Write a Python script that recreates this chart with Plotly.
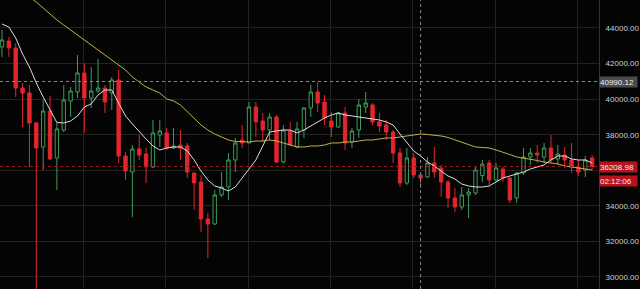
import plotly.graph_objects as go

# ---- data ----
opens = [42932, 43270, 42876, 40627, 40346, 38659, 37309, 39333, 36691, 38265,
         39895, 40402, 41470, 40065, 40458, 40627, 40346, 41077, 36804, 35904,
         37197, 36916, 36185, 37984, 38097, 37253, 37422, 37366, 35848, 35342,
         33262, 32980, 34611, 35061, 36579, 37703, 37534, 39558, 38771, 38265,
         38996, 36466, 38209, 37309, 38265, 39502, 40402, 39840, 38771, 38434,
         39221, 37591, 38265, 39558, 39670, 38715, 38546, 38153, 36972, 35286,
         36691, 35735, 35623, 36410, 36128, 35342, 34443, 33937, 34611, 34724,
         35700, 36410, 35454, 36072, 35567, 34443, 35848, 36747, 36972, 36747,
         37253, 36635, 36860, 36579, 36185, 36017, 36692]
highs = [43888, 43494, 43157, 40908, 40796, 38715, 39952, 40177, 38659, 40796,
         40683, 42482, 42032, 41807, 42257, 40796, 41245, 41639, 37028, 37422,
         37984, 37253, 38828, 38828, 38378, 38378, 38265, 37534, 35848, 35735,
         33600, 34892, 35904, 36972, 37816, 38546, 39840, 39840, 39221, 39221,
         39108, 38546, 38715, 38715, 39558, 40796, 40964, 40233, 39277, 39277,
         39558, 38378, 40008, 40402, 39783, 39221, 38828, 38265, 37253, 37253,
         36972, 35848, 36747, 37309, 36297, 35454, 35005, 35061, 35005, 36185,
         36579, 36579, 36410, 36185, 35623, 35904, 37253, 37253, 37422, 37534,
         37984, 37422, 37310, 37535, 36579, 36804, 36860]
lows = [42370, 42370, 40120, 38434, 36185, 28500, 36017, 36579, 34892, 38153,
        38996, 40065, 38097, 39502, 40346, 39221, 39390, 36410, 35454, 33374,
        36579, 35286, 36129, 37309, 37141, 37197, 36579, 35567, 33768, 32530,
        31070, 32924, 34499, 34330, 35904, 37253, 37534, 37872, 37591, 37703,
        36410, 36410, 37366, 37253, 37816, 38996, 39277, 38546, 37872, 38378,
        37141, 37253, 37816, 39221, 38546, 38153, 37703, 36410, 35061, 35173,
        35567, 35005, 35567, 35567, 34499, 33880, 33656, 33768, 33318, 34611,
        35342, 35173, 35342, 35342, 34161, 34161, 35735, 36297, 36410, 36410,
        36410, 36298, 36129, 35849, 35680, 35623, 36017]
closes = [43325, 42876, 40627, 40346, 38659, 37253, 39333, 36635, 38322, 39952,
          40458, 41470, 40065, 40458, 40627, 39840, 41077, 36804, 35960, 37197,
          36860, 36185, 38097, 38209, 37253, 37366, 37253, 35904, 35286, 33262,
          32980, 34611, 35061, 36579, 37534, 37534, 39558, 38715, 38265, 38996,
          36466, 38265, 37422, 38322, 39502, 40402, 39783, 38940, 38434, 39221,
          37534, 38209, 39670, 39783, 38715, 38490, 38153, 36972, 35286, 36691,
          35735, 35567, 36410, 35904, 35342, 34443, 33937, 34611, 34780, 36016,
          36350, 35454, 36128, 35567, 34330, 35848, 36747, 36972, 36860, 37253,
          36579, 36916, 36579, 36186, 35904, 36579, 36208.98]

ma_fast = [44225, 44056, 43438, 42538, 41807, 40908, 40121, 39390, 38687, 38659,
           38771, 39052, 39558, 39727, 40233, 40514, 40514, 39783, 39052, 38603,
           38153, 37759, 37366, 37141, 37253, 37310, 37310, 37085, 36579, 35960,
           35454, 35117, 35005, 34836, 35061, 35567, 36017, 36579, 37366, 38153,
           38209, 38265, 38265, 38097, 38265, 38490, 38715, 38940, 39109, 39221,
           39109, 39052, 38996, 38940, 38884, 38828, 38715, 38546, 38041, 37535,
           37085, 36804, 36466, 36241, 35960, 35679, 35511, 35230, 35117, 35061,
           35061, 35117, 35342, 35567, 35679, 35792, 35904, 36073, 36185, 36298,
           36579, 36804, 36804, 36635, 36579, 36579, 36410]
ma_slow = [46867, 46586, 46305, 45968, 45743, 45462, 45124, 44787, 44450, 44169,
           43887, 43606, 43325, 43044, 42763, 42482, 42201, 41920, 41639, 41245,
           40964, 40683, 40514, 40345, 40008, 39896, 39671, 39278, 38884, 38547,
           38265, 38041, 37872, 37703, 37619, 37591, 37591, 37647, 37647, 37703,
           37647, 37535, 37422, 37310, 37310, 37366, 37366, 37422, 37535, 37535,
           37591, 37591, 37647, 37703, 37703, 37759, 37816, 37816, 37872, 37928,
           38012, 38041, 38012, 37984, 37928, 37844, 37703, 37563, 37422, 37310,
           37281, 37253, 37141, 37029, 36888, 36748, 36691, 36635, 36551, 36466,
           36410, 36354, 36242, 36185, 36129, 36073, 36017]

index = list(range(len(closes)))
y_ticks = [30000, 32000, 34000, 36000, 38000, 40000, 42000, 44000]
# the 36000 label is hidden behind the current-price tag in the reference
y_tick_text = ["30000.00", "32000.00", "34000.00", "", "38000.00",
               "40000.00", "42000.00", "44000.00"]
current_price = 36208.98
countdown = "02:12:06"
crosshair_index = 61
crosshair_price = 40990.12

RED = "#e3262d"
GREEN = "#3f9c5a"
BG = "#040404"

fig = go.Figure()
fig.add_trace(go.Candlestick(
    x=index, open=opens, high=highs, low=lows, close=closes,
    increasing=dict(line=dict(color=GREEN, width=1), fillcolor=BG),
    decreasing=dict(line=dict(color=RED, width=1), fillcolor=RED),
    whiskerwidth=0, showlegend=False, hoverinfo="skip",
))
fig.add_trace(go.Scatter(x=index, y=ma_slow, mode="lines",
                         line=dict(color="#bdb44c", width=1), showlegend=False,
                         hoverinfo="skip"))
fig.add_trace(go.Scatter(x=index, y=ma_fast, mode="lines",
                         line=dict(color="#dcdcdc", width=1), showlegend=False,
                         hoverinfo="skip"))

# current price line
fig.add_shape(type="line", xref="paper", x0=0, x1=1, yref="y",
              y0=current_price, y1=current_price,
              line=dict(color="#9a1c1c", width=1, dash="3px,3px"))
# crosshair
fig.add_shape(type="line", xref="paper", x0=0, x1=1, yref="y",
              y0=crosshair_price, y1=crosshair_price,
              line=dict(color="#8a8a8a", width=1, dash="3px,3px"))
fig.add_shape(type="line", xref="x", x0=crosshair_index, x1=crosshair_index,
              yref="paper", y0=0, y1=1,
              line=dict(color="#8a8a8a", width=1, dash="3px,3px"))

lab_font = dict(family="Liberation Sans, Arial, sans-serif", size=8, color="#f0f0f0")
fig.add_annotation(xref="paper", x=1, xanchor="left", yref="y", y=crosshair_price,
                   text=f"{crosshair_price:.2f}", showarrow=False,
                   bgcolor="#4b4b4b", font=lab_font, width=37, height=10,
                   borderpad=0, align="left")
fig.add_annotation(xref="paper", x=1, xanchor="left", yref="y", y=current_price,
                   text=f"{current_price:.2f}", showarrow=False,
                   bgcolor="#b5141c", font=lab_font, width=37, height=10,
                   borderpad=0, align="left")
fig.add_annotation(xref="paper", x=1, xanchor="left", yref="y", y=current_price,
                   yshift=-14, text=countdown, showarrow=False,
                   bgcolor="#b5141c", font=lab_font, width=37, height=10,
                   borderpad=0, align="left")

fig.update_layout(
    width=640, height=289,
    margin=dict(l=0, r=41, t=0, b=0),
    paper_bgcolor=BG, plot_bgcolor=BG,
    xaxis=dict(range=[-0.29, 87.0], showticklabels=False, showgrid=True,
               gridcolor="#222222", gridwidth=1, tick0=11.85, dtick=12,
               zeroline=False, rangeslider=dict(visible=False), fixedrange=True),
    yaxis=dict(side="right", range=[29325, 45574], tickvals=y_ticks,
               ticktext=y_tick_text, showgrid=True, gridcolor="#222222",
               gridwidth=1, zeroline=False, showline=True, linecolor="#333333",
               linewidth=1, ticks="", ticklabelstandoff=4,
               tickfont=dict(family="Liberation Sans, Arial, sans-serif", size=8,
                             color="#cfcfcf")),
    hovermode=False,
)

fig.write_html("out.html")
